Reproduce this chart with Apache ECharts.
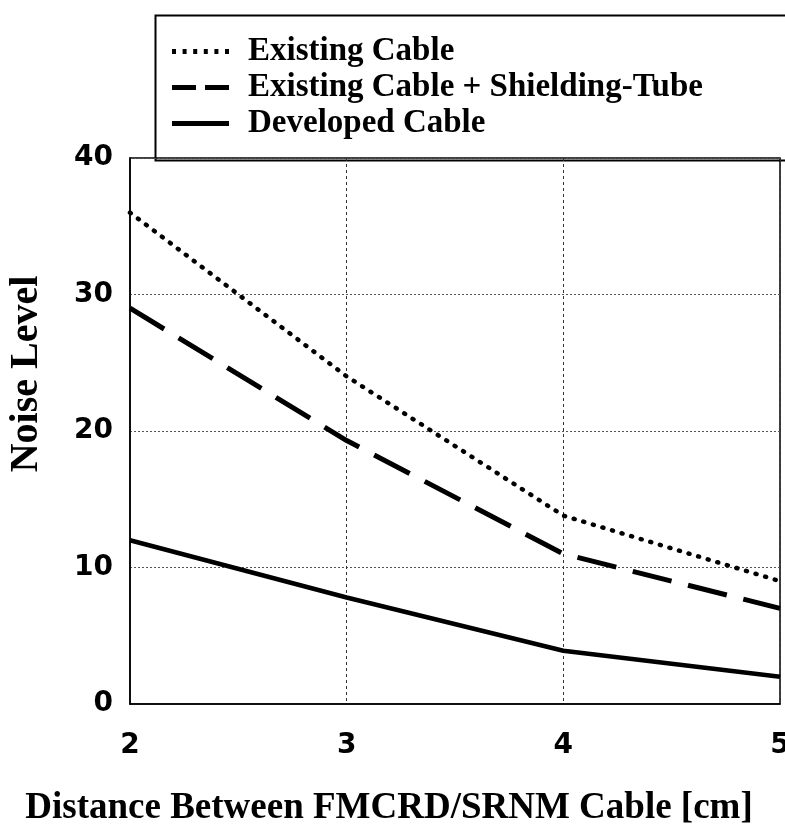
<!DOCTYPE html>
<html>
<head>
<meta charset="utf-8">
<script src="https://cdn.jsdelivr.net/npm/echarts@6/dist/echarts.min.js"></script>
<style>
html,body{margin:0;padding:0;background:#fff;}
#c{width:785px;height:837px;}
</style>
</head>
<body>
<div id="c"></div>
<script>
const distances = [2, 3, 4, 5];
const existingCable = [36, 24, 13.8, 9];
const shieldingTube = [29, 19.3, 11, 7];
const developedCable = [12, 7.8, 3.9, 2];
const seriesNames = ['Existing Cable', 'Existing Cable + Shielding-Tube', 'Developed Cable'];
const yTicks = [0, 10, 20, 30, 40];
const xTicks = [2, 3, 4, 5];

const pairs = arr => distances.map((d, i) => [d, arr[i]]);
const serif = '"Liberation Serif", "Times New Roman", serif';
const sans = '"DejaVu Sans", sans-serif';

// legend key glyphs (57 x 5 box)
const legendIcons = [
  'path://M0 0h4v5h-4z M10.6 0h4v5h-4z M21.2 0h4v5h-4z M31.8 0h4v5h-4z M42.4 0h4v5h-4z M53 0h4v5h-4z',
  'path://M0 0h24v5h-24z M33 0h24v5h-24z',
  'path://M0 0h57v5h-57z'
];

const chart = echarts.init(document.getElementById('c'));
chart.setOption({
  animation: false,
  backgroundColor: '#fff',
  grid: { left: 130, right: 5, top: 158, bottom: 133, show: true, borderColor: '#000', borderWidth: 1.5,
    outerBoundsMode: 'none', containLabel: false },
  legend: {
    orient: 'vertical', left: 167, top: 30, itemGap: 3,
    itemWidth: 57, itemHeight: 5,
    itemStyle: { color: '#000', borderWidth: 0 },
    textStyle: { fontFamily: serif, fontWeight: 'bold', fontSize: 33, lineHeight: 33, color: '#000',
      padding: [0, 0, 0, 14] },
    data: seriesNames.map((n, i) => ({ name: n, icon: legendIcons[i] }))
  },
  graphic: [
    { type: 'rect', left: 153, top: 13, z: 0, silent: true,
      shape: { width: 700, height: 145 },
      style: { fill: 'none', stroke: '#000', lineWidth: 2 } }
  ],
  xAxis: {
    type: 'value', min: 2, max: 5, interval: 1,
    name: 'Distance Between FMCRD/SRNM Cable [cm]', nameLocation: 'middle', nameGap: 86,
    nameTextStyle: { fontFamily: serif, fontWeight: 'bold', fontSize: 37, color: '#000',
      padding: [0, 132, 0, 0] },
    axisLine: { show: true, lineStyle: { color: '#000', width: 1.5 } },
    axisTick: { show: false },
    axisLabel: { margin: 28, fontFamily: sans, fontWeight: 'bold', fontSize: 28, color: '#000',
      formatter: v => xTicks.includes(v) ? String(v) : '' },
    splitLine: { show: true, lineStyle: { color: '#333', type: [3, 3], width: 1 } }
  },
  yAxis: {
    type: 'value', min: 0, max: 40, interval: 10,
    name: 'Noise Level', nameLocation: 'middle', nameGap: 83, nameRotate: 90,
    nameTextStyle: { fontFamily: serif, fontWeight: 'bold', fontSize: 40, color: '#000',
      padding: [0, 0, 0, 114] },
    axisLine: { show: true, lineStyle: { color: '#000', width: 1.5 } },
    axisTick: { show: false },
    axisLabel: { margin: 17, fontFamily: sans, fontWeight: 'bold', fontSize: 28, color: '#000',
      formatter: v => yTicks.includes(v) ? String(v) : '' },
    splitLine: { show: true, lineStyle: { color: '#555', type: [2, 2], width: 1 } }
  },
  series: [
    { name: seriesNames[0], type: 'line', data: pairs(existingCable), symbol: 'none',
      lineStyle: { color: '#000', width: 4.5, type: [1, 9], cap: 'round' }, itemStyle: { color: '#000' } },
    { name: seriesNames[1], type: 'line', data: pairs(shieldingTube), symbol: 'none',
      lineStyle: { color: '#000', width: 5, type: [40, 17] }, itemStyle: { color: '#000' } },
    { name: seriesNames[2], type: 'line', data: pairs(developedCable), symbol: 'none',
      lineStyle: { color: '#000', width: 4.5 }, itemStyle: { color: '#000' } }
  ]
});
</script>
</body>
</html>
